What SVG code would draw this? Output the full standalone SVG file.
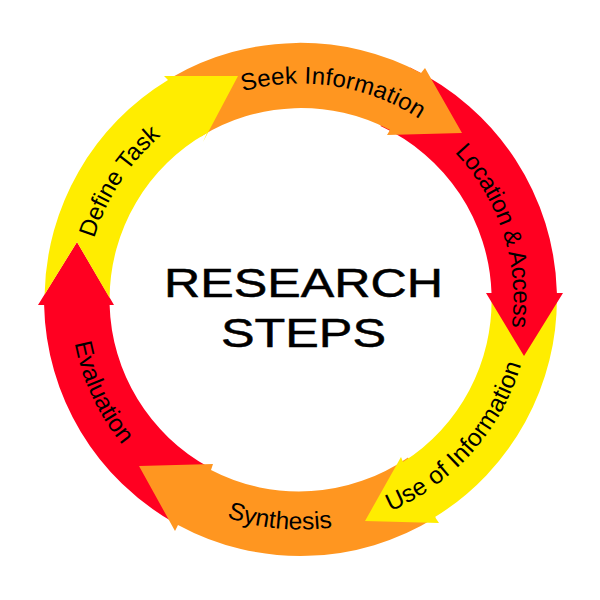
<svg xmlns="http://www.w3.org/2000/svg" width="600" height="600" viewBox="0 0 600 600">
  <style>
    .orange { fill: #ff9620; }
    .yellow { fill: #ffed00; }
    .red { fill: #ff0021; }
    .label { font-family: "Liberation Sans", Arial, sans-serif; font-size: 24px; fill: #000; }
    .outer { font-size: 24.5px; }
    .title { font-family: "Liberation Sans", Arial, sans-serif; font-size: 41px; fill: #000; stroke: #000; stroke-width: 0.5px; }
  </style>
  <defs>
    <path id="p-seek" d="M242.8,91.4 A216,216 0 0 1 439.3,134"/>
    <path id="p-define" d="M94.3,238.4 A215,215 0 0 1 177.2,123.4"/>
    <path id="p-location" d="M454.5,152.3 A213,213 0 0 1 506.2,354.6"/>
    <path id="p-use" d="M390.4,511.2 A230,230 0 0 0 527,339.4"/>
    <path id="p-synthesis" d="M226.8,517.4 A230,230 0 0 0 360,521.7"/>
    <path id="p-evaluation" d="M74.6,343 A230,230 0 0 0 137.9,462.1"/>
  </defs>
  <rect width="600" height="600" fill="#fff"/>
  <g id="connectors"/>
  <g id="evaluation">
    <path class="red" d="M175.5,523.5 A256.5,256.5 0 0 1 44.1,305 L38,305 L77,242 L114,305 L109.6,305 A191,191 0 0 0 208.5,466.9 Z"/>
    <text class="label outer"><textPath href="#p-evaluation" textLength="113.6">Evaluation</textPath></text>
  </g>
  <g id="synthesis">
    <path class="orange" d="M435.5,517.5 A256.5,256.5 0 0 1 178,524.9 L175,531 L139,466 L213,464 L211,470 A191,191 0 0 0 408,457.4 Z"/>
    <text class="label outer"><textPath href="#p-synthesis" textLength="107">Synthesis</textPath></text>
  </g>
  <g id="use-of-information">
    <path class="yellow" d="M556.9,295 A256.5,256.5 0 0 1 435,517 L439,523 L365,521 L401,457 L403,462 A191,191 0 0 0 491.5,295 Z"/>
  </g>
  <g id="location-access">
    <path class="red" d="M410,67.5 A256.5,256.5 0 0 1 556.9,293 L563,293 L524,356 L486,293 L491.5,293 A191,191 0 0 0 380.5,126 Z"/>
    <text class="label"><textPath href="#p-location" textLength="190">Location &amp; Access</textPath></text>
  </g>
  <g id="seek-information">
    <path class="orange" d="M172.5,77 A256.5,256.5 0 0 1 421,73 L425,68 L462,133 L387,135 L390,130 A191,191 0 0 0 200.5,136.7 Z"/>
    <text class="label"><textPath href="#p-seek" textLength="184">Seek Information</textPath></text>
  </g>
  <g id="define-task">
    <path class="yellow" d="M44.6,294.5 L77,242 L109.6,298 A191,191 0 0 1 207,133 L203,142 L238,76 L164,76 L168,80 A256.5,256.5 0 0 0 44.6,294.5 Z"/>
    <text class="label"><textPath href="#p-define" textLength="124">Define Task</textPath></text>
  </g>
  <g id="use-of-information-label">
    <text class="label outer"><textPath href="#p-use" textLength="203">Use of Information</textPath></text>
  </g>
  <g id="center-title">
    <text class="title" x="164" y="297" textLength="279" lengthAdjust="spacingAndGlyphs">RESEARCH</text>
    <text class="title" x="221" y="347" textLength="165" lengthAdjust="spacingAndGlyphs">STEPS</text>
  </g>
</svg>
